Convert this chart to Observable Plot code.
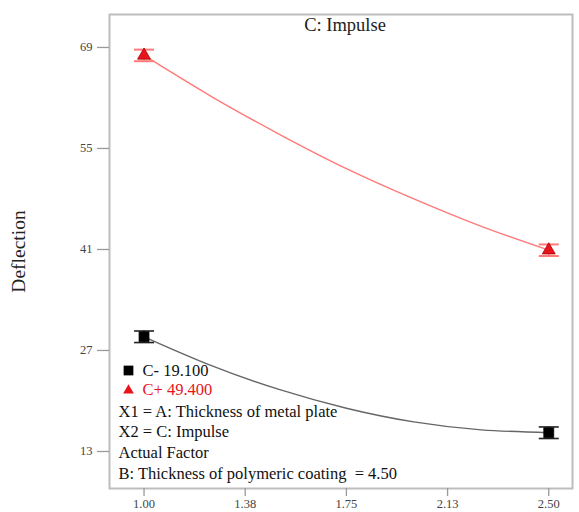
<!DOCTYPE html>
<html><head><meta charset="utf-8">
<script src="https://cdn.jsdelivr.net/npm/d3@7"></script>
<script src="https://cdn.jsdelivr.net/npm/@observablehq/plot@0.6"></script>
<style>body{margin:0;background:#fff} #chart svg{display:block}</style>
</head><body><div id="chart"></div>
<script>
// ---- data ----
const xLevels = [1.00, 2.50];
const cMinusMeans = [28.9, 15.6];
const cPlusMeans = [67.9, 40.9];
const cMinusErr = [0.8, 0.8];
const cPlusErr = [0.8, 0.8];
const curveX = [1.00, 1.25, 1.50, 1.75, 2.00, 2.25, 2.50];
const cMinusCurve = [28.9, 24.9, 21.6, 19.0, 17.1, 16.0, 15.6];
const cPlusCurve = [67.9, 62.2, 57.0, 52.2, 48.0, 44.2, 40.9];
const xTicks = [1.00, 1.375, 1.75, 2.125, 2.50];
const xTickLabels = ["1.00", "1.38", "1.75", "2.13", "2.50"];
const yTicks = [13, 27, 41, 55, 69];
const seriesNames = ["C- 19.100", "C+ 49.400"];
const titleText = "C: Impulse";
const yLabel = "Deflection";
const notes = ["X1 = A: Thickness of metal plate", "X2 = C: Impulse", "Actual Factor", "B: Thickness of polymeric coating  = 4.50"];

// ---- build tables ----
const minusPts = xLevels.map((x, i) => ({x, y: cMinusMeans[i], e: cMinusErr[i]}));
const plusPts = xLevels.map((x, i) => ({x, y: cPlusMeans[i], e: cPlusErr[i]}));
const minusCurve = curveX.map((x, i) => ({x, y: cMinusCurve[i]}));
const plusCurve = curveX.map((x, i) => ({x, y: cPlusCurve[i]}));

const FONT = "'Liberation Serif', 'Times New Roman', serif";
const RED = "#e8141c";
const RED_LIGHT = "#ff7a7a";
const capSymbol = {draw(ctx) { ctx.moveTo(-10, 0); ctx.lineTo(10, 0); }};

const noteDy = [-77, -57, -36, -15];

const chart = Plot.plot({
  width: 579,
  height: 512,
  marginLeft: 109,
  marginRight: 7,
  marginTop: 14,
  marginBottom: 24,
  style: {fontFamily: FONT, background: "#fff", color: "#333"},
  x: {domain: [0.872, 2.588]},
  y: {domain: [7.87, 73.57]},
  marks: [
    Plot.frame({stroke: "#bdbdbd", strokeWidth: 2}),
    Plot.axisX({ticks: xTicks, tickFormat: (d) => xTickLabels[xTicks.indexOf(d)], tickSize: 8, tickPadding: 3, fontSize: 12.5, stroke: "#9a9a9a", strokeWidth: 1.3, fill: "#444", label: null}),
    Plot.axisY({ticks: yTicks, tickSize: 12, tickPadding: 5, fontSize: 12.5, stroke: "#9a9a9a", strokeWidth: 1.3, fill: "#444", label: null}),
    Plot.text([yLabel], {frameAnchor: "left", dx: -91, rotate: -90, textAnchor: "middle", lineAnchor: "middle", fontSize: 19.5, fill: "#222"}),
    Plot.text([titleText], {frameAnchor: "top", dx: 4, dy: 11, textAnchor: "middle", lineAnchor: "middle", fontSize: 18.5, fill: "#222"}),
    // curves
    Plot.line(plusCurve, {x: "x", y: "y", curve: "natural", stroke: RED_LIGHT, strokeWidth: 1.4}),
    Plot.line(minusCurve, {x: "x", y: "y", curve: "natural", stroke: "#666", strokeWidth: 1.4}),
    // error bars
    Plot.ruleX(plusPts, {x: "x", y1: (d) => d.y - d.e, y2: (d) => d.y + d.e, stroke: RED_LIGHT, strokeWidth: 1.2}),
    Plot.dot(plusPts, {x: "x", y: (d) => d.y + d.e, symbol: capSymbol, stroke: RED_LIGHT, strokeWidth: 2, fill: "none"}),
    Plot.dot(plusPts, {x: "x", y: (d) => d.y - d.e, symbol: capSymbol, stroke: RED_LIGHT, strokeWidth: 2, fill: "none"}),
    Plot.ruleX(minusPts, {x: "x", y1: (d) => d.y - d.e, y2: (d) => d.y + d.e, stroke: "#111", strokeWidth: 1.2}),
    Plot.dot(minusPts, {x: "x", y: (d) => d.y + d.e, symbol: capSymbol, stroke: "#222", strokeWidth: 1.6, fill: "none"}),
    Plot.dot(minusPts, {x: "x", y: (d) => d.y - d.e, symbol: capSymbol, stroke: "#222", strokeWidth: 1.6, fill: "none"}),
    // markers
    Plot.dot(plusPts, {x: "x", y: "y", symbol: "triangle", r: 4.8, fill: RED, stroke: "#a00", strokeWidth: 0.8}),
    Plot.dot(minusPts, {x: "x", y: "y", symbol: "square", r: 5.6, fill: "#000", stroke: "#000", strokeWidth: 0.8}),
    // legend
    Plot.dot([seriesNames[0]], {frameAnchor: "bottom-left", dx: 19, dy: -118, symbol: "square", r: 5.5, fill: "#000"}),
    Plot.text([seriesNames[0]], {frameAnchor: "bottom-left", dx: 33, dy: -118, fontSize: 16.5, textAnchor: "start", lineAnchor: "middle", fill: "#111"}),
    Plot.dot([seriesNames[1]], {frameAnchor: "bottom-left", dx: 19, dy: -98, symbol: "triangle", r: 4, fill: RED}),
    Plot.text([seriesNames[1]], {frameAnchor: "bottom-left", dx: 33, dy: -99, fontSize: 16.5, textAnchor: "start", lineAnchor: "middle", fill: RED}),
    ...notes.map((t, i) => Plot.text([t], {frameAnchor: "bottom-left", dx: 9, dy: noteDy[i], fontSize: 16.5, textAnchor: "start", lineAnchor: "middle", fill: "#111"}))
  ]
});
document.getElementById("chart").appendChild(chart);
</script>
</body></html>
